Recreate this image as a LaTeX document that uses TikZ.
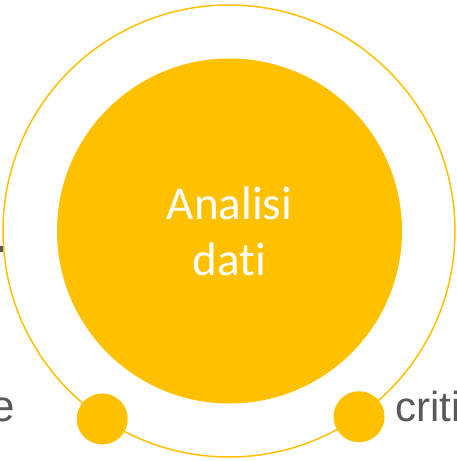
\documentclass[tikz,border=0pt]{standalone}
\usepackage{fontspec}
\setmainfont{Liberation Sans}
\newfontfamily\calibrifont[Ligatures=NoCommon]{Carlito}
\definecolor{gold}{HTML}{FFC000}
\definecolor{darkgrey}{HTML}{595959}
\tikzset{
  dot/.style={circle, fill=gold, inner sep=0pt, minimum size=51pt},
  sidelabel/.style={text=darkgrey, inner sep=0pt, font=\fontsize{44}{50}\selectfont}
}
\begin{document}
\begin{tikzpicture}[x=1pt,y=-1pt]
  \useasboundingbox (0,0) rectangle (456,461);
  \node[circle, draw=gold, line width=1.5pt, inner sep=0pt, minimum size=452pt] (ring) at (229,231) {};
  \node[circle, fill=gold, inner sep=0pt, minimum size=345pt, text=white, align=center,
        font=\calibrifont\fontsize{47}{56}\selectfont] (core) at (229.5,231) {Analisi\\dati};
  \node[dot] (dotl) at (ring.236) {};
  \node[dot] (dotr) at (ring.305) {};
  \node[sidelabel, anchor=base east] (lefttext) at (15,421) {e};
  \node[sidelabel, anchor=base west, font=\fontsize{42}{48}\selectfont] (righttext) at (395,421.5) {criti};
  \fill[darkgrey] (0,246) rectangle (3,252);
\end{tikzpicture}
\end{document}
